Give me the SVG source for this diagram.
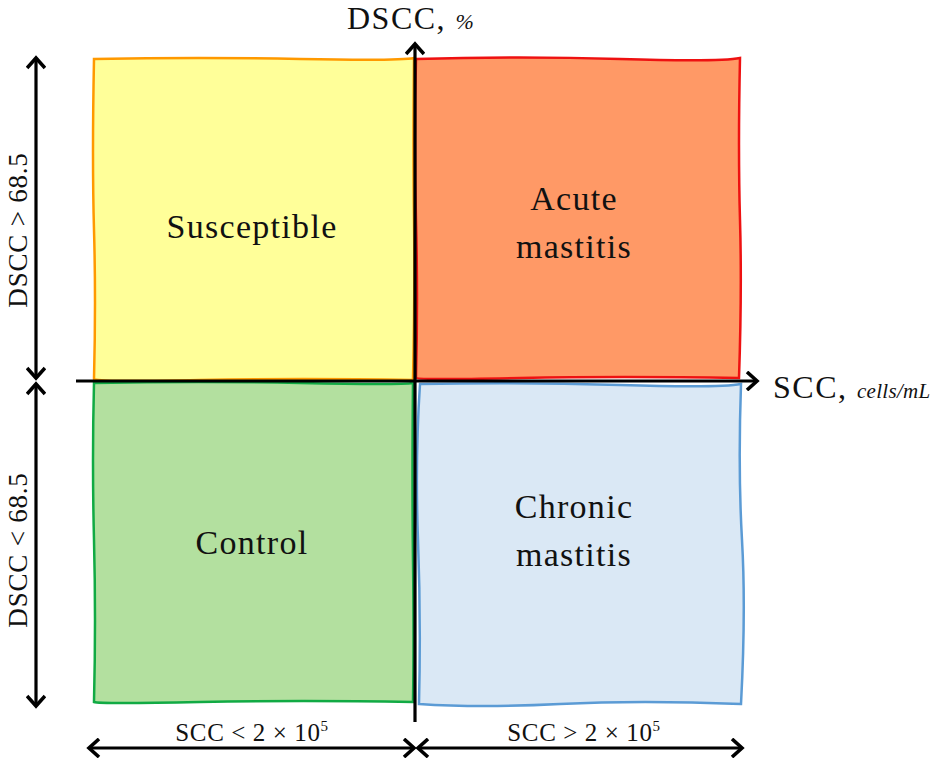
<svg xmlns="http://www.w3.org/2000/svg" width="941" height="765" viewBox="0 0 941 765">
<style>
.t{font-family:"Liberation Serif","Times New Roman",serif;fill:#111}
.big{font-size:34px;letter-spacing:1.3px}
.ax{stroke:#000;stroke-width:3.2;fill:none}
.box{stroke-width:2.5}
</style>
<defs>
<marker id="ah" markerWidth="16" markerHeight="20" refX="12" refY="10" orient="auto-start-reverse" markerUnits="userSpaceOnUse">
<polyline points="2,1 12,10 2,19" fill="none" stroke="#000" stroke-width="3.6"/>
</marker>
</defs>
<rect width="941" height="765" fill="#fff"/>
<g id="susceptible">
<path class="box" fill="#ffff99" stroke="#ff9900" d="M94,59 Q200,57 300,59 T414,58 Q413,150 414,220 T413,380 Q300,378 200,380 T94,379 Q96,300 94,230 T94,59 Z"/>
<text class="t big" x="252" y="238" text-anchor="middle">Susceptible</text>
</g>
<g id="acute">
<path class="box" fill="#ff9966" stroke="#ee1111" d="M416,59 Q520,56 620,59 T740,58 Q738,150 740,220 T739,378 Q620,376 520,378 T416,378 Q418,300 416,220 T416,59 Z"/>
<text class="t big" x="574" y="210" text-anchor="middle">Acute</text>
<text class="t big" x="574" y="258" text-anchor="middle">mastitis</text>
</g>
<g id="control">
<path class="box" fill="#b3e09f" stroke="#11aa44" d="M94,383 Q200,381 300,383 T413,383 Q412,480 413,560 T413,702 Q300,700 200,702 T94,702 Q96,620 94,540 T94,383 Z"/>
<text class="t big" x="252" y="554" text-anchor="middle">Control</text>
</g>
<g id="chronic">
<path class="box" fill="#dae8f5" stroke="#5b9bd5" d="M420,384 Q520,382 620,385 T741,384 Q738,470 742,540 T741,704 Q640,700 560,704 T419,704 Q421,620 418,540 T420,384 Z"/>
<text class="t big" x="574" y="518" text-anchor="middle">Chronic</text>
<text class="t big" x="574" y="566" text-anchor="middle">mastitis</text>
</g>
<g id="connectors">
<line class="ax" x1="415" y1="722" x2="415" y2="44" marker-end="url(#ah)"/>
<line class="ax" x1="76" y1="381" x2="757" y2="381" marker-end="url(#ah)"/>
<line class="ax" x1="36" y1="58" x2="36" y2="378" marker-start="url(#ah)" marker-end="url(#ah)"/>
<line class="ax" x1="36" y1="384" x2="36" y2="706" marker-start="url(#ah)" marker-end="url(#ah)"/>
<line class="ax" x1="89" y1="748" x2="414" y2="748" marker-start="url(#ah)" marker-end="url(#ah)"/>
<line class="ax" x1="418" y1="748" x2="742" y2="748" marker-start="url(#ah)" marker-end="url(#ah)"/>
</g>
<g id="labels">
<text class="t" x="347" y="29" font-size="32" letter-spacing="1.5">DSCC, <tspan font-size="22" font-style="italic" letter-spacing="0">%</tspan></text>
<text class="t" x="773" y="398" font-size="32" letter-spacing="1.5">SCC, <tspan font-size="21" font-style="italic" letter-spacing="0.3">cells/mL</tspan></text>
<text class="t" font-size="27" letter-spacing="0.8" text-anchor="middle" transform="translate(27,230) rotate(-90)">DSCC &gt; 68.5</text>
<text class="t" font-size="27" letter-spacing="0.8" text-anchor="middle" transform="translate(27,550) rotate(-90)">DSCC &lt; 68.5</text>
<text class="t" font-size="25" letter-spacing="0.6" x="252" y="741" text-anchor="middle">SCC &lt; 2 × 10<tspan font-size="15" dy="-10">5</tspan></text>
<text class="t" font-size="25" letter-spacing="0.6" x="584" y="741" text-anchor="middle">SCC &gt; 2 × 10<tspan font-size="15" dy="-10">5</tspan></text>
</g>
</svg>
